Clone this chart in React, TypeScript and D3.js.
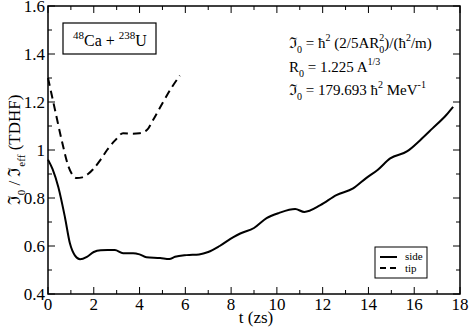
import React from 'react';
import * as d3 from 'd3';

const sideT = [0, 0.2, 0.45, 0.74, 0.96, 1.18, 1.4, 1.7, 2.0, 2.3, 2.6, 2.92, 3.28, 3.72, 4.0, 4.3, 4.9, 5.3, 5.55, 6.06, 6.6, 7.0, 7.5, 8.1, 8.4, 9.0, 9.55, 10.1, 10.8, 11.2, 11.9, 12.6, 13.33, 13.9, 14.4, 14.95, 15.7, 16.25, 16.8, 17.4, 17.7];
const sideV = [0.96, 0.92, 0.846, 0.72, 0.61, 0.56, 0.545, 0.555, 0.575, 0.582, 0.583, 0.583, 0.57, 0.57, 0.565, 0.553, 0.55, 0.546, 0.555, 0.562, 0.565, 0.575, 0.6, 0.637, 0.652, 0.675, 0.716, 0.738, 0.754, 0.742, 0.77, 0.812, 0.84, 0.883, 0.917, 0.965, 0.995, 1.04, 1.09, 1.146, 1.18];

const tipT = [0, 0.3, 0.6, 0.9, 1.25, 1.5, 1.75, 1.97, 2.3, 2.58, 2.93, 3.28, 3.7, 4.0, 4.32, 4.59, 5.0, 5.4, 5.76];
const tipV = [1.3, 1.17, 1.04, 0.93, 0.883, 0.886, 0.9, 0.92, 0.96, 1.0, 1.04, 1.07, 1.068, 1.07, 1.083, 1.125, 1.195, 1.26, 1.31];

const xTicks = [0, 2, 4, 6, 8, 10, 12, 14, 16, 18];
const yTicks = [0.4, 0.6, 0.8, 1, 1.2, 1.4, 1.6];

const W = 469, H = 329;
const left = 48, right = 460, top = 6, bottom = 294;
const font = '"Liberation Serif", "Times New Roman", "DejaVu Serif", serif';

export default function App() {
  const x = d3.scaleLinear().domain([0, 18]).range([left, right]);
  const y = d3.scaleLinear().domain([0.4, 1.6]).range([bottom, top]);
  const line = d3.line<[number, number]>()
    .x(d => x(d[0]))
    .y(d => y(d[1]))
    .curve(d3.curveMonotoneX);

  const side = sideT.map((t, i) => [t, sideV[i]] as [number, number]);
  const tip = tipT.map((t, i) => [t, tipV[i]] as [number, number]);

  const xMinor = d3.range(1, 18, 2);
  const yMinor = d3.range(0.5, 1.6, 0.2);

  return (
    <svg width={W} height={H} style={{position: 'absolute', left: 0, top: 0, background: '#fff', fontFamily: font}}>
      <rect x={0} y={0} width={W} height={H} fill="#fff" />
      {/* curves */}
      <path d={line(side) || ''} fill="none" stroke="#000" strokeWidth={2} />
      <path d={line(tip) || ''} fill="none" stroke="#000" strokeWidth={2} strokeDasharray="8,5" />

      {/* frame */}
      <rect x={left} y={top} width={right - left} height={bottom - top} fill="none" stroke="#000" strokeWidth={1.5} />

      {/* ticks */}
      {xTicks.map(t => (
        <g key={'x' + t}>
          <line x1={x(t)} x2={x(t)} y1={bottom} y2={bottom - 7} stroke="#000" />
          <line x1={x(t)} x2={x(t)} y1={top} y2={top + 7} stroke="#000" />
          <text x={x(t)} y={bottom + 16} fontSize={17} textAnchor="middle">{t}</text>
        </g>
      ))}
      {xMinor.map(t => (
        <g key={'xm' + t}>
          <line x1={x(t)} x2={x(t)} y1={bottom} y2={bottom - 4} stroke="#000" />
          <line x1={x(t)} x2={x(t)} y1={top} y2={top + 4} stroke="#000" />
        </g>
      ))}
      {yTicks.map(v => (
        <g key={'y' + v}>
          <line x1={left} x2={left + 7} y1={y(v)} y2={y(v)} stroke="#000" />
          <line x1={right} x2={right - 7} y1={y(v)} y2={y(v)} stroke="#000" />
          <text x={left - 3} y={y(v) + 6} fontSize={17} textAnchor="end">{v === 1 ? '1' : v.toFixed(1)}</text>
        </g>
      ))}
      {yMinor.map(v => (
        <g key={'ym' + v}>
          <line x1={left} x2={left + 4} y1={y(v)} y2={y(v)} stroke="#000" />
          <line x1={right} x2={right - 4} y1={y(v)} y2={y(v)} stroke="#000" />
        </g>
      ))}

      {/* axis titles */}
      <text x={(left + right) / 2 + 2} y={323} fontSize={17} textAnchor="middle">t (zs)</text>
      <text transform={`translate(20,${(top + bottom) / 2}) rotate(-90)`} fontSize={17} textAnchor="middle">
        ℑ<tspan fontSize={11} dy={5}>0</tspan><tspan dy={-5}> / ℑ</tspan><tspan fontSize={11} dy={5}>eff</tspan><tspan dy={-5}> (TDHF)</tspan>
      </text>

      {/* reaction label */}
      <rect x={63} y={23} width={93} height={31} fill="#fff" stroke="#000" strokeWidth={1.2} />
      <text x={73} y={46} fontSize={16}>
        <tspan fontSize={11} dy={-7}>48</tspan><tspan dy={7}>Ca + </tspan><tspan fontSize={11} dy={-7}>238</tspan><tspan dy={7}>U</tspan>
      </text>

      {/* formulas */}
      <text x={289} y={48} fontSize={15}>
        ℑ<tspan fontSize={10} dy={5}>0</tspan><tspan dy={-5}> = ħ</tspan><tspan fontSize={10} dy={-7}>2</tspan><tspan dy={7}> (2/5AR</tspan><tspan fontSize={10} dy={-7}>2</tspan><tspan fontSize={10} dx={-5} dy={12}>0</tspan><tspan dy={-5}>)/(ħ</tspan><tspan fontSize={10} dy={-7}>2</tspan><tspan dy={7}>/m)</tspan>
      </text>
      <text x={289} y={72} fontSize={15}>
        R<tspan fontSize={10} dy={5}>0</tspan><tspan dy={-5}> = 1.225 A</tspan><tspan fontSize={10} dy={-7}>1/3</tspan>
      </text>
      <text x={289} y={95} fontSize={15}>
        ℑ<tspan fontSize={10} dy={5}>0</tspan><tspan dy={-5}> = 179.693 ħ</tspan><tspan fontSize={10} dy={-7}>2</tspan><tspan dy={7}> MeV</tspan><tspan fontSize={10} dy={-7}>-1</tspan>
      </text>

      {/* legend */}
      <rect x={375} y={247} width={52} height={31} fill="#fff" stroke="#000" strokeWidth={1} />
      <line x1={380} x2={397} y1={257} y2={257} stroke="#000" strokeWidth={2} />
      <line x1={380} x2={397} y1={268} y2={268} stroke="#000" strokeWidth={2} strokeDasharray="6,4" />
      <text x={405} y={260} fontSize={11}>side</text>
      <text x={405} y={272} fontSize={11}>tip</text>
    </svg>
  );
}
